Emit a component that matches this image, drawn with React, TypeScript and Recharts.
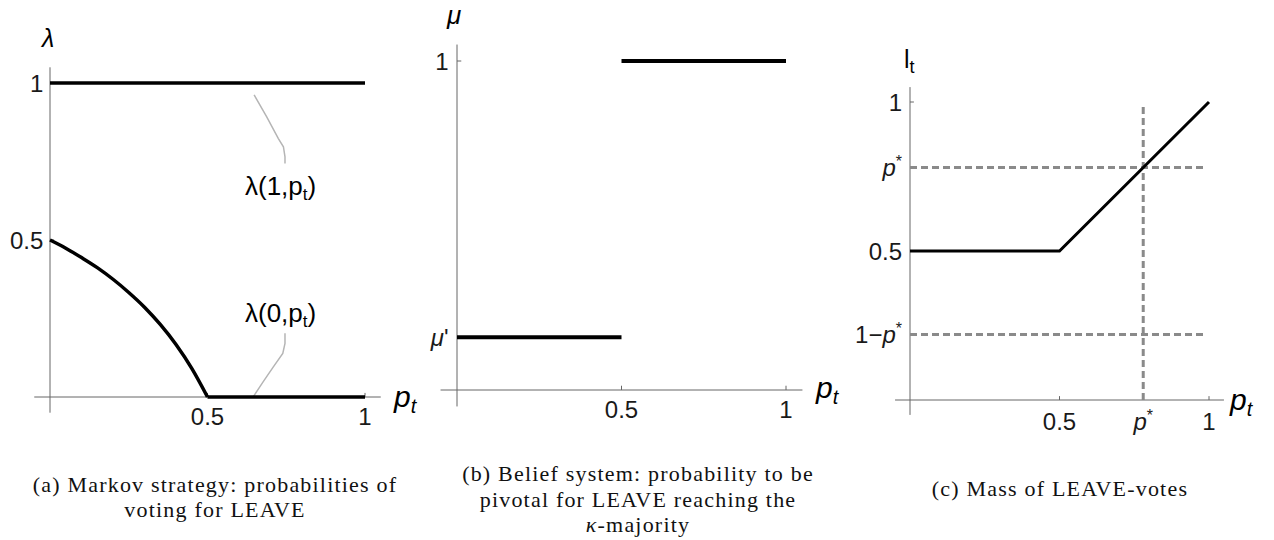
import React from "react";
import { LineChart, Line, XAxis, YAxis, ReferenceLine } from "recharts";

// (a) Markov strategy: λ(1,p) and λ(0,p), plus grey leader lines to the notes
const lambda1P = [0, 1];
const lambda1V = [1, 1];
const lambda0CurveP = [0, 0.05, 0.1, 0.15, 0.2, 0.25, 0.3, 0.35, 0.4, 0.45, 0.5];
const lambda0CurveV = [0.5, 0.474, 0.444, 0.412, 0.375, 0.333, 0.286, 0.231, 0.167, 0.091, 0];
const lambda0FlatP = [0.5, 1];
const lambda0FlatV = [0, 0];
const leaderTopP = [0.648, 0.688, 0.725, 0.741, 0.746, 0.746];
const leaderTopV = [0.962, 0.892, 0.823, 0.797, 0.765, 0.744];
const leaderLowP = [0.746, 0.746, 0.739, 0.709, 0.677, 0.645];
const leaderLowV = [0.203, 0.171, 0.139, 0.096, 0.049, 0.0];
const aXTicks = [0.5, 1];
const aXLabels = ["0.5", "1"];
const aYTicks = [0.5, 1];
const aYLabels = ["0.5", "1"];

// (b) Belief system
const muPrime = 0.16;
const muLowP = [0, 0.5];
const muLowV = [muPrime, muPrime];
const muHighP = [0.5, 1];
const muHighV = [1, 1];
const bXTicks = [0.5, 1];
const bXLabels = ["0.5", "1"];
const bYTicks = [muPrime, 1];
const bYLabels = ["μ'", "1"];

// (c) Mass of LEAVE-votes
const pStar = 0.78;
const massP = [0, 0.5, 1];
const massV = [0.5, 0.5, 1];
const guideEnd = 0.985;
const cXTicks = [0.5, pStar, 1];
const cXLabels = ["0.5", "p*", "1"];
const cYTicks = [1 - pStar, 0.5, pStar, 1];
const cYLabels = ["1−p*", "0.5", "p*", "1"];

const DOMAIN: [number, number] = [-0.05, 1.05];
const TICK_LEN = 0.013;
const AXIS = "#666";
const SANS = "'Liberation Sans', Arial, sans-serif";
const SERIF = "'Liberation Serif', 'Times New Roman', serif";

const pts = (ps: number[], vs: number[]) => ps.map((p, i) => ({ p, v: vs[i] }));

function rich(s: string) {
  if (s === "p*")
    return [<tspan key="p" fontStyle="italic">p</tspan>, <tspan key="s" fontSize={16} dy={-9}>*</tspan>];
  if (s === "1−p*")
    return [<tspan key="1">1−</tspan>, <tspan key="p" fontStyle="italic">p</tspan>, <tspan key="s" fontSize={16} dy={-9}>*</tspan>];
  if (s === "μ'")
    return [<tspan key="m" fontStyle="italic">μ</tspan>, <tspan key="q">'</tspan>];
  return s;
}

const xTick = (ticks: number[], labels: string[], dy: number) => (props: any) => {
  const { x, y, payload } = props;
  const i = ticks.indexOf(payload.value);
  const s = i >= 0 ? labels[i] : String(payload.value);
  return (
    <text x={x} y={y + dy} textAnchor="middle" fontSize={24} fontFamily={SANS} fill="#1a1a1a">
      {rich(s)}
    </text>
  );
};

const yTick = (ticks: number[], labels: string[], dx: number) => (props: any) => {
  const { x, y, payload } = props;
  const i = ticks.indexOf(payload.value);
  const s = i >= 0 ? labels[i] : String(payload.value);
  return (
    <text x={x + dx} y={y + 8.5} textAnchor="end" fontSize={24} fontFamily={SANS} fill="#1a1a1a">
      {rich(s)}
    </text>
  );
};

function axesAndTicks(xt: number[], yt: number[]) {
  return [
    <ReferenceLine key="ax" x={0} stroke={AXIS} strokeWidth={1} />,
    <ReferenceLine key="ay" y={0} stroke={AXIS} strokeWidth={1} />,
    ...xt.map((t) => (
      <ReferenceLine key={"tx" + t} segment={[{ x: t, y: 0 }, { x: t, y: TICK_LEN }]} stroke={AXIS} strokeWidth={1} />
    )),
    ...yt.map((t) => (
      <ReferenceLine key={"ty" + t} segment={[{ x: 0, y: t }, { x: TICK_LEN, y: t }]} stroke={AXIS} strokeWidth={1} />
    )),
  ];
}

function MarkovPanel() {
  return (
    <LineChart width={420} height={440} margin={{ top: 67.3, left: 33.25, right: 39.25, bottom: 26.3 }}>
      <XAxis type="number" dataKey="p" domain={DOMAIN} ticks={aXTicks} allowDataOverflow height={1}
        axisLine={false} tickLine={false} tickSize={0} tickMargin={0} tick={xTick(aXTicks, aXLabels, 12.5)} />
      <YAxis type="number" dataKey="v" domain={DOMAIN} ticks={aYTicks} allowDataOverflow width={1}
        axisLine={false} tickLine={false} tickSize={0} tickMargin={0} tick={yTick(aYTicks, aYLabels, 9)} />
      {axesAndTicks(aXTicks, aYTicks)}
      <Line data={pts(leaderTopP, leaderTopV)} dataKey="v" type="linear" stroke="#b5b5b5" strokeWidth={1.5} dot={false} isAnimationActive={false} />
      <Line data={pts(leaderLowP, leaderLowV)} dataKey="v" type="linear" stroke="#b5b5b5" strokeWidth={1.5} dot={false} isAnimationActive={false} />
      <Line data={pts(lambda1P, lambda1V)} dataKey="v" type="linear" stroke="#000" strokeWidth={3.5} dot={false} isAnimationActive={false} />
      <Line data={pts(lambda0CurveP, lambda0CurveV)} dataKey="v" type="monotone" stroke="#000" strokeWidth={3.5} dot={false} isAnimationActive={false} />
      <Line data={pts(lambda0FlatP, lambda0FlatV)} dataKey="v" type="linear" stroke="#000" strokeWidth={3.5} dot={false} isAnimationActive={false} />
    </LineChart>
  );
}

function BeliefPanel() {
  return (
    <LineChart width={420} height={440} margin={{ top: 44.55, left: 19.55, right: 37.55, bottom: 32.55 }}>
      <XAxis type="number" dataKey="p" domain={DOMAIN} ticks={bXTicks} allowDataOverflow height={1}
        axisLine={false} tickLine={false} tickSize={0} tickMargin={0} tick={xTick(bXTicks, bXLabels, 11.5)} />
      <YAxis type="number" dataKey="v" domain={DOMAIN} ticks={bYTicks} allowDataOverflow width={1}
        axisLine={false} tickLine={false} tickSize={0} tickMargin={0} tick={yTick(bYTicks, bYLabels, 8)} />
      {axesAndTicks(bXTicks, bYTicks)}
      <Line data={pts(muLowP, muLowV)} dataKey="v" type="linear" stroke="#000" strokeWidth={4} dot={false} isAnimationActive={false} />
      <Line data={pts(muHighP, muHighV)} dataKey="v" type="linear" stroke="#000" strokeWidth={4} dot={false} isAnimationActive={false} />
    </LineChart>
  );
}

function MassPanel() {
  const dash = { stroke: "#8a8a8a", strokeWidth: 3, strokeDasharray: "7 4" };
  return (
    <LineChart width={434} height={440} margin={{ top: 87.1, left: 54.05, right: 50.05, bottom: 24.1 }}>
      <XAxis type="number" dataKey="p" domain={DOMAIN} ticks={cXTicks} allowDataOverflow height={1}
        axisLine={false} tickLine={false} tickSize={0} tickMargin={0} tick={xTick(cXTicks, cXLabels, 15)} />
      <YAxis type="number" dataKey="v" domain={DOMAIN} ticks={cYTicks} allowDataOverflow width={1}
        axisLine={false} tickLine={false} tickSize={0} tickMargin={0} tick={yTick(cYTicks, cYLabels, 7)} />
      {axesAndTicks(cXTicks, cYTicks)}
      <ReferenceLine segment={[{ x: 0, y: pStar }, { x: guideEnd, y: pStar }]} {...dash} />
      <ReferenceLine segment={[{ x: 0, y: 1 - pStar }, { x: guideEnd, y: 1 - pStar }]} {...dash} />
      <ReferenceLine segment={[{ x: pStar, y: 0 }, { x: pStar, y: guideEnd }]} {...dash} />
      <Line data={pts(massP, massV)} dataKey="v" type="linear" stroke="#000" strokeWidth={3} dot={false} isAnimationActive={false} />
    </LineChart>
  );
}

function PT({ x, y }: { x: number; y: number }) {
  return (
    <text x={x} y={y} fontSize={30} fontStyle="italic" fontFamily={SANS}>
      p<tspan fontSize={20} dy={6}>t</tspan>
    </text>
  );
}

function Notes() {
  const cap = { fontFamily: SERIF, fontSize: 22, letterSpacing: 1.2, textAnchor: "middle" as const, fill: "#111" };
  const note = { fontSize: 26, fontFamily: SANS };
  return (
    <svg width={1274} height={540} style={{ position: "absolute", left: 0, top: 0, pointerEvents: "none" }}>
      {/* axis names */}
      <text x={42} y={47} fontSize={25} fontStyle="italic" fontFamily={SANS}>λ</text>
      <PT x={394} y={407} />
      <text x={447} y={24} fontSize={26} fontStyle="italic" fontFamily={SANS}>μ</text>
      <PT x={816} y={398} />
      <text x={904} y={68} fontSize={25} fontFamily={SANS}>
        l<tspan fontSize={18} dy={5}>t</tspan>
      </text>
      <PT x={1230} y={410} />
      {/* curve notes */}
      <text x={245} y={195} {...note}>
        λ(1,p<tspan fontSize={17} dy={5}>t</tspan><tspan dy={-5}>)</tspan>
      </text>
      <text x={245} y={322} {...note}>
        λ(0,p<tspan fontSize={17} dy={5}>t</tspan><tspan dy={-5}>)</tspan>
      </text>
      {/* captions */}
      <text x={215} y={492} {...cap}>(a) Markov strategy: probabilities of</text>
      <text x={215} y={517} {...cap}>voting for LEAVE</text>
      <text x={638} y={481} {...cap}>(b) Belief system: probability to be</text>
      <text x={638} y={506.5} {...cap}>pivotal for LEAVE reaching the</text>
      <text x={638} y={532} {...cap}>
        <tspan fontStyle="italic">κ</tspan>-majority
      </text>
      <text x={1060} y={496} {...cap}>(c) Mass of LEAVE-votes</text>
    </svg>
  );
}

export default function App() {
  return (
    <div style={{ position: "absolute", left: 0, top: 0, width: 1274, height: 540, background: "#fff" }}>
      <div style={{ position: "absolute", left: 0, top: 0 }}>
        <MarkovPanel />
      </div>
      <div style={{ position: "absolute", left: 420, top: 0 }}>
        <BeliefPanel />
      </div>
      <div style={{ position: "absolute", left: 840, top: 0 }}>
        <MassPanel />
      </div>
      <Notes />
    </div>
  );
}
